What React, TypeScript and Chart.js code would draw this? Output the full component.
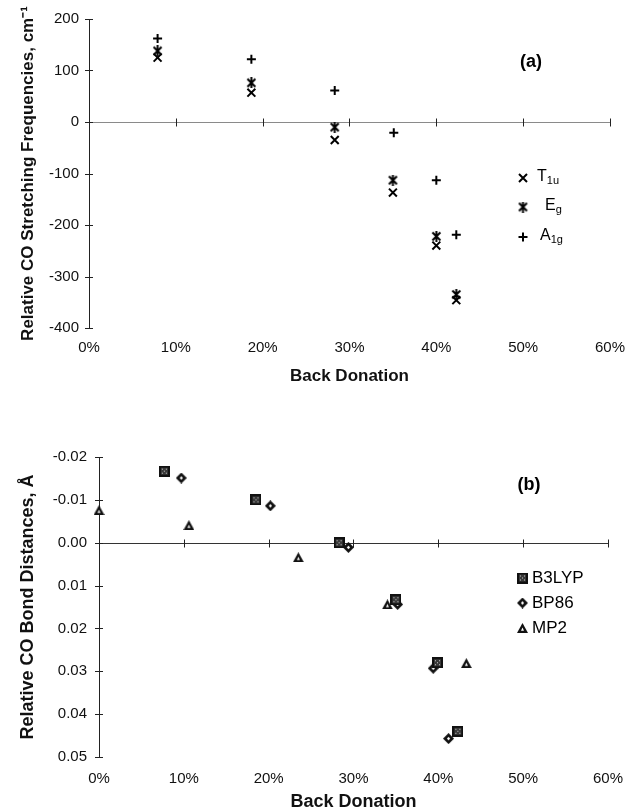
import React, { useEffect, useRef } from 'react';
import { Chart, registerables } from 'chart.js';

Chart.register(...registerables);

const FONT = "'Liberation Sans', Arial, Helvetica, sans-serif";

// ---------- shared ----------
const xTickLabels = ['0%', '10%', '20%', '30%', '40%', '50%', '60%'];

// ---------- panel (a): CO stretching frequencies ----------
const aBackDonation = [7.9, 18.7, 28.3, 35.0, 40.0, 42.3];
const aA1gBackDonation = [7.9, 18.7, 28.3, 35.1, 40.0, 42.3];
const t1uValues = [125, 57, -35, -137, -240, -346];
const egValues = [138, 76, -10, -113, -222, -335];
const a1gValues = [162, 122, 61, -21, -113, -219];
const aYTickLabels = ['-400', '-300', '-200', '-100', '0', '100', '200'];

// ---------- panel (b): CO bond distances ----------
const b3lypX = [7.7, 18.5, 28.3, 35.0, 39.9, 42.3];
const b3lypY = [-0.0167, -0.0100, 0.0000, 0.0133, 0.0280, 0.0440];
const bp86X = [9.7, 20.2, 29.4, 35.2, 39.4, 41.2];
const bp86Y = [-0.0151, -0.0086, 0.0011, 0.0144, 0.0293, 0.0457];
const mp2X = [0.0, 10.6, 23.5, 34.0, 43.3];
const mp2Y = [-0.0076, -0.0041, 0.0034, 0.0144, 0.0281];
const bYTickLabels = ['-0.02', '-0.01', '0.00', '0.01', '0.02', '0.03', '0.04', '0.05'];

const zip = (xs: number[], ys: number[]) => xs.map((x, i) => ({ x, y: ys[i] }));

function makeMarker(w: number, h: number, draw: (ctx: CanvasRenderingContext2D) => void) {
  const c = document.createElement('canvas');
  c.width = w;
  c.height = h;
  const ctx = c.getContext('2d')!;
  draw(ctx);
  return c;
}

function makeMarkers() {
  const asterisk = makeMarker(11, 11, (ctx) => {
    ctx.strokeStyle = '#000';
    ctx.lineWidth = 2;
    ctx.beginPath();
    ctx.moveTo(1.5, 1.5); ctx.lineTo(9.5, 9.5);
    ctx.moveTo(9.5, 1.5); ctx.lineTo(1.5, 9.5);
    ctx.moveTo(5.5, 0); ctx.lineTo(5.5, 11);
    ctx.stroke();
  });
  const square = makeMarker(11, 11, (ctx) => {
    ctx.fillStyle = '#111';
    ctx.fillRect(0, 0, 11, 11);
    ctx.fillStyle = '#3a3a3a';
    ctx.fillRect(2, 2, 7, 7);
    ctx.fillStyle = '#c8c8c8';
    [[3, 3], [7, 3], [5, 5], [3, 7], [7, 7]].forEach(([px, py]) => ctx.fillRect(px, py, 1, 1));
  });
  const diamond = makeMarker(11, 11, (ctx) => {
    ctx.fillStyle = '#111';
    ctx.beginPath();
    ctx.moveTo(5.5, 0); ctx.lineTo(11, 5.5); ctx.lineTo(5.5, 11); ctx.lineTo(0, 5.5);
    ctx.closePath();
    ctx.fill();
    ctx.fillStyle = '#fff';
    ctx.beginPath();
    ctx.moveTo(5.5, 3.8); ctx.lineTo(7.2, 5.5); ctx.lineTo(5.5, 7.2); ctx.lineTo(3.8, 5.5);
    ctx.closePath();
    ctx.fill();
  });
  const triangle = makeMarker(11, 10, (ctx) => {
    ctx.fillStyle = '#111';
    ctx.beginPath();
    ctx.moveTo(5.5, 0); ctx.lineTo(11, 10); ctx.lineTo(0, 10);
    ctx.closePath();
    ctx.fill();
    ctx.fillStyle = '#fff';
    ctx.beginPath();
    ctx.moveTo(5.5, 4.5); ctx.lineTo(7, 7.8); ctx.lineTo(4, 7.8);
    ctx.closePath();
    ctx.fill();
  });
  return { asterisk, square, diamond, triangle };
}

function zeroAxisPlugin(lineColor: string) {
  return {
    id: 'zeroAxis',
    beforeDatasetsDraw(chart: any) {
      const { ctx, chartArea, scales } = chart;
      const xs = scales.x;
      const ys = scales.y;
      const y0 = Math.round(ys.getPixelForValue(0)) + 0.5;
      ctx.save();
      ctx.lineWidth = 1;
      ctx.strokeStyle = lineColor;
      ctx.beginPath();
      ctx.moveTo(chartArea.left, y0);
      ctx.lineTo(chartArea.right, y0);
      ctx.stroke();
      ctx.strokeStyle = '#222';
      ctx.beginPath();
      xs.ticks.forEach((t: any) => {
        const px = Math.round(xs.getPixelForValue(t.value)) + 0.5;
        if (px <= chartArea.left + 2) return;
        ctx.moveTo(px, y0 - 4);
        ctx.lineTo(px, y0 + 4);
      });
      ys.ticks.forEach((t: any) => {
        const py = Math.round(ys.getPixelForValue(t.value)) + 0.5;
        ctx.moveTo(chartArea.left - 4, py);
        ctx.lineTo(chartArea.left + 4, py);
      });
      ctx.stroke();
      ctx.restore();
    },
  };
}

function drawSub(ctx: CanvasRenderingContext2D, main: string, sub: string, x: number, y: number) {
  ctx.font = `16px ${FONT}`;
  ctx.textAlign = 'left';
  ctx.textBaseline = 'middle';
  ctx.fillText(main, x, y);
  const w = ctx.measureText(main).width;
  ctx.font = `11px ${FONT}`;
  ctx.fillText(sub, x + w, y + 4);
}

function xScale(titleSize: number, labelPad: number, height: number, titleBottomPad: number) {
  return {
    type: 'linear',
    min: 0,
    max: 60,
    ticks: {
      stepSize: 10,
      padding: labelPad,
      color: '#111',
      font: { family: FONT, size: 15 },
      callback: (_v: any, i: number) => xTickLabels[i],
    },
    grid: { display: false, drawTicks: false },
    border: { display: false },
    title: {
      display: true,
      text: 'Back Donation',
      color: '#111',
      font: { family: FONT, size: titleSize, weight: 'bold', lineHeight: 1.0 },
      padding: { top: 0, bottom: titleBottomPad },
    },
    afterFit: (s: any) => {
      s.height = height;
    },
  };
}

export default function App() {
  const refA = useRef<HTMLCanvasElement>(null);
  const refB = useRef<HTMLCanvasElement>(null);

  useEffect(() => {
    const m = makeMarkers();

    const legendA = {
      id: 'legendA',
      afterDraw(chart: any) {
        const { ctx } = chart;
        ctx.save();
        ctx.fillStyle = '#000';
        ctx.font = `bold 18px ${FONT}`;
        ctx.textAlign = 'center';
        ctx.textBaseline = 'middle';
        ctx.fillText('(a)', 531, 62);
        // T1u marker (x)
        ctx.strokeStyle = '#000';
        ctx.lineWidth = 2;
        ctx.beginPath();
        ctx.moveTo(519, 174); ctx.lineTo(527, 182);
        ctx.moveTo(527, 174); ctx.lineTo(519, 182);
        ctx.stroke();
        ctx.drawImage(m.asterisk, 523 - 5.5, 207 - 5.5);
        ctx.beginPath();
        ctx.moveTo(518.5, 237); ctx.lineTo(527.5, 237);
        ctx.moveTo(523, 232.5); ctx.lineTo(523, 241.5);
        ctx.stroke();
        drawSub(ctx, 'T', '1u', 537, 177);
        drawSub(ctx, 'E', 'g', 545, 206);
        drawSub(ctx, 'A', '1g', 540, 236);
        ctx.restore();
      },
    };

    const legendB = {
      id: 'legendB',
      afterDraw(chart: any) {
        const { ctx } = chart;
        ctx.save();
        ctx.fillStyle = '#000';
        ctx.font = `bold 18px ${FONT}`;
        ctx.textAlign = 'center';
        ctx.textBaseline = 'middle';
        ctx.fillText('(b)', 529, 87);
        ctx.drawImage(m.square, 522.5 - 5.5, 180 - 5.5);
        ctx.drawImage(m.diamond, 522.5 - 5.5, 205 - 5.5);
        ctx.drawImage(m.triangle, 522.5 - 5.5, 230 - 5);
        ctx.font = `17px ${FONT}`;
        ctx.textAlign = 'left';
        ctx.fillText('B3LYP', 532, 180);
        ctx.fillText('BP86', 532, 205);
        ctx.fillText('MP2', 532, 230);
        ctx.restore();
      },
    };

    const chartA = new Chart(refA.current!, {
      type: 'scatter',
      data: {
        datasets: [
          { label: 'T1u', data: zip(aBackDonation, t1uValues), pointStyle: 'crossRot', pointRadius: 5.6, borderColor: '#000', backgroundColor: '#000', borderWidth: 2, clip: false },
          { label: 'Eg', data: zip(aBackDonation, egValues), pointStyle: m.asterisk, pointRadius: 5, borderColor: '#000', backgroundColor: '#000', clip: false },
          { label: 'A1g', data: zip(aA1gBackDonation, a1gValues), pointStyle: 'cross', pointRadius: 4.5, borderColor: '#000', backgroundColor: '#000', borderWidth: 2, clip: false },
        ],
      } as any,
      options: {
        responsive: false,
        animation: false,
        devicePixelRatio: 1,
        events: [],
        layout: { padding: { top: 19, right: 17, left: 0, bottom: 0 } },
        plugins: { legend: { display: false }, tooltip: { enabled: false } },
        scales: {
          x: xScale(17, 11, 70, 13),
          y: {
            type: 'linear',
            min: -400,
            max: 200,
            ticks: {
              stepSize: 100,
              padding: 10,
              color: '#111',
              font: { family: FONT, size: 15 },
              callback: (_v: any, i: number) => aYTickLabels[i],
            },
            grid: { display: false, drawTicks: false },
            border: { display: true, color: '#222', width: 1 },
            title: {
              display: true,
              text: 'Relative CO Stretching Frequencies, cm\u207B\u00B9',
              color: '#111',
              font: { family: FONT, size: 17, weight: 'bold', lineHeight: 1.2 },
              padding: { top: 18, bottom: 0 },
            },
            afterFit: (s: any) => {
              s.width = 89;
            },
          },
        } as any,
      },
      plugins: [zeroAxisPlugin('#8a8a8a'), legendA],
    } as any);

    const chartB = new Chart(refB.current!, {
      type: 'scatter',
      data: {
        datasets: [
          { label: 'B3LYP', data: zip(b3lypX, b3lypY), pointStyle: m.square, pointRadius: 5, clip: false },
          { label: 'BP86', data: zip(bp86X, bp86Y), pointStyle: m.diamond, pointRadius: 5, clip: false },
          { label: 'MP2', data: zip(mp2X, mp2Y), pointStyle: m.triangle, pointRadius: 5, clip: false },
        ],
      } as any,
      options: {
        responsive: false,
        animation: false,
        devicePixelRatio: 1,
        events: [],
        layout: { padding: { top: 59, right: 18, left: 0, bottom: 0 } },
        plugins: { legend: { display: false }, tooltip: { enabled: false } },
        scales: {
          x: xScale(18, 13, 54, 0),
          y: {
            type: 'linear',
            min: -0.02,
            max: 0.05,
            reverse: true,
            ticks: {
              stepSize: 0.01,
              padding: 12,
              color: '#111',
              font: { family: FONT, size: 15 },
              // reversed scale: tick array runs from max down to min
              callback: (_v: any, i: number) => bYTickLabels[bYTickLabels.length - 1 - i],
            },
            grid: { display: false, drawTicks: false },
            border: { display: true, color: '#222', width: 1 },
            title: {
              display: true,
              text: 'Relative CO Bond Distances, \u00C5',
              color: '#111',
              font: { family: FONT, size: 18, weight: 'bold', lineHeight: 1.2 },
              padding: { top: 17, bottom: 0 },
            },
            afterFit: (s: any) => {
              s.width = 99;
            },
          },
        } as any,
      },
      plugins: [zeroAxisPlugin('#333'), legendB],
    } as any);

    return () => {
      chartA.destroy();
      chartB.destroy();
    };
  }, []);

  return (
    <div style={{ position: 'absolute', left: 0, top: 0, width: 636, height: 811, background: '#fff' }}>
      <canvas ref={refA} width={636} height={398} style={{ position: 'absolute', left: 0, top: 0, width: 636, height: 398 }} />
      <canvas ref={refB} width={636} height={413} style={{ position: 'absolute', left: 0, top: 398, width: 636, height: 413 }} />
    </div>
  );
}
